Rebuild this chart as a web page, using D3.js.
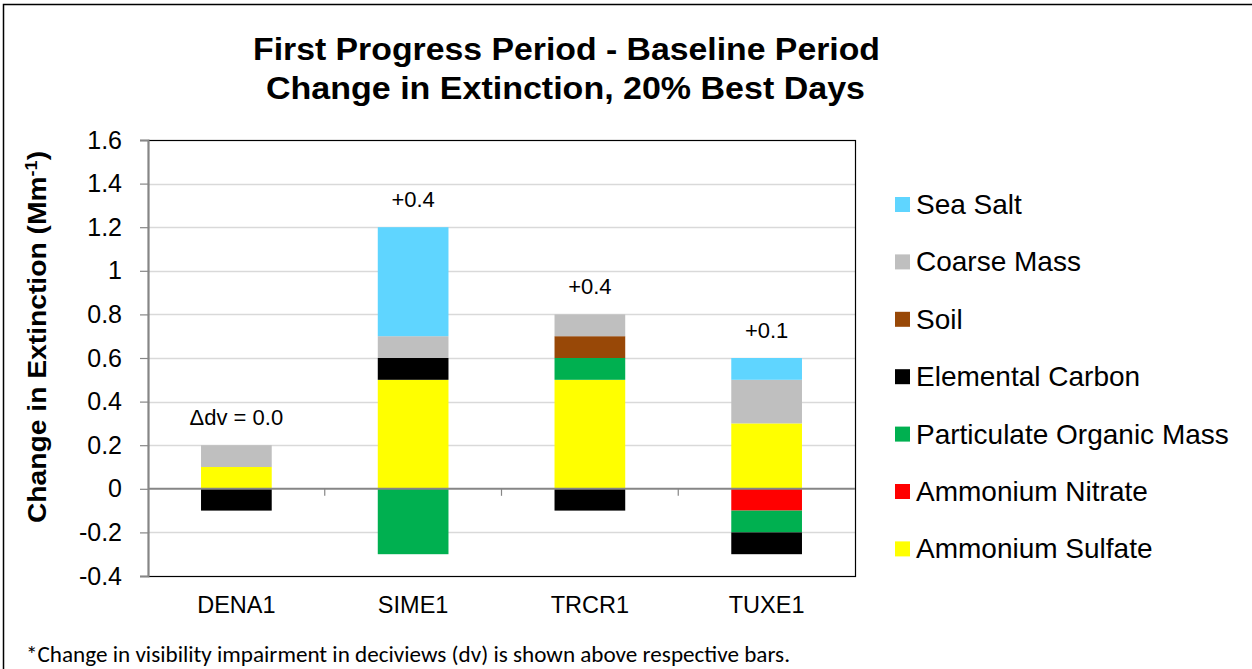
<!DOCTYPE html>
<html>
<head>
<meta charset="utf-8">
<script src="https://cdn.jsdelivr.net/npm/d3@7"></script>
<style>
  body { margin: 0; background: #fff; }
  svg { display: block; font-family: Arial, "Liberation Sans", sans-serif; }
</style>
</head>
<body>
<div id="chart"></div>
<script>
// sites along the x axis
var sites = ['DENA1', 'SIME1', 'TRCR1', 'TUXE1'];

// change in extinction per species (Mm-1), one value per site
var ammoniumSulfate = [0.1, 0.5, 0.5, 0.3];
var ammoniumNitrate = [0.0, 0.0, 0.0, -0.1];
var organicMass     = [0.0, -0.3, 0.1, -0.1];
var elementalCarbon = [-0.1, 0.1, -0.1, -0.1];
var soil            = [0.0, 0.0, 0.1, 0.0];
var coarseMass      = [0.1, 0.1, 0.1, 0.2];
var seaSalt         = [0.0, 0.5, 0.0, 0.1];

// deciview change printed above each bar
var dvLabels = ['\u0394dv = 0.0', '+0.4', '+0.4', '+0.1'];

var yTicks = [-0.4, -0.2, 0, 0.2, 0.4, 0.6, 0.8, 1, 1.2, 1.4, 1.6];

var species = [
    { key: 'sulfate', name: 'Ammonium Sulfate',        color: '#ffff00', values: ammoniumSulfate },
    { key: 'nitrate', name: 'Ammonium Nitrate',        color: '#ff0000', values: ammoniumNitrate },
    { key: 'pom',     name: 'Particulate Organic Mass', color: '#00b050', values: organicMass },
    { key: 'ec',      name: 'Elemental Carbon',        color: '#000000', values: elementalCarbon },
    { key: 'soil',    name: 'Soil',                    color: '#984807', values: soil },
    { key: 'cm',      name: 'Coarse Mass',             color: '#bfbfbf', values: coarseMass },
    { key: 'ss',      name: 'Sea Salt',                color: '#5fd5ff', values: seaSalt }
];

var rows = sites.map(function(s, i) {
    var r = { site: s };
    species.forEach(function(sp) { r[sp.key] = sp.values[i]; });
    return r;
});

var width = 1252;
var height = 669;
var margin = { left: 148, right: 397, top: 140, bottom: 93 };
var plotW = width - margin.left - margin.right;
var plotH = height - margin.top - margin.bottom;

var svg = d3.select('#chart').append('svg')
    .attr('width', width)
    .attr('height', height);

// page frame
svg.append('path')
    .attr('d', 'M3.5,' + height + 'V4.5H' + width)
    .attr('fill', 'none')
    .attr('stroke', '#000')
    .attr('stroke-width', 1.5);

var x = d3.scaleBand()
    .domain(sites)
    .range([0, plotW])
    .paddingInner(0.6)
    .paddingOuter(0.3);

var y = d3.scaleLinear()
    .domain([-0.4, 1.6])
    .range([plotH, 0]);

var g = svg.append('g')
    .attr('transform', 'translate(' + margin.left + ',' + margin.top + ')');

// gridlines
g.selectAll('.grid')
    .data(yTicks.filter(function(t) { return t !== 0 && t !== -0.4 && t !== 1.6; }))
  .enter().append('line')
    .attr('class', 'grid')
    .attr('x1', 0)
    .attr('x2', plotW)
    .attr('y1', function(d) { return Math.round(y(d)) + 0.5; })
    .attr('y2', function(d) { return Math.round(y(d)) + 0.5; })
    .attr('stroke', '#d9d9d9')
    .attr('stroke-width', 1.5);

// plot area border
g.append('rect')
    .attr('x', 0.5)
    .attr('y', 0.5)
    .attr('width', plotW)
    .attr('height', plotH)
    .attr('fill', 'none')
    .attr('stroke', '#000')
    .attr('stroke-width', 1.2);

var stack = d3.stack()
    .keys(species.map(function(s) { return s.key; }))
    .offset(d3.stackOffsetDiverging);

var layers = stack(rows);

g.selectAll('.layer')
    .data(layers)
  .enter().append('g')
    .attr('class', 'layer')
    .attr('fill', function(d, i) { return species[i].color; })
  .selectAll('rect')
    .data(function(d) { return d; })
  .enter().append('rect')
    .attr('x', function(d) { return x(d.data.site); })
    .attr('width', x.bandwidth())
    .attr('y', function(d) { return y(Math.max(d[0], d[1])); })
    .attr('height', function(d) { return Math.abs(y(d[0]) - y(d[1])); });

// y axis, plain hyphen for negatives
var yAxis = d3.axisLeft(y)
    .tickValues(yTicks)
    .tickSize(8)
    .tickPadding(18)
    .tickFormat(function(d) { return String(+d.toFixed(1)); });

var ya = g.append('g').call(yAxis);
ya.select('.domain').attr('stroke', '#868686').attr('stroke-width', 2);
ya.selectAll('.tick line').attr('stroke', '#868686').attr('stroke-width', 1.2);
ya.selectAll('.tick text')
    .attr('fill', '#000')
    .attr('x', -26)
    .style('font-size', '25px');

// zero line with category separators
var xa = g.append('g')
    .attr('transform', 'translate(0,' + y(0) + ')');
xa.append('line')
    .attr('x1', 0).attr('x2', plotW)
    .attr('stroke', '#868686').attr('stroke-width', 2);
xa.selectAll('.sep')
    .data(sites.slice(1))
  .enter().append('line')
    .attr('class', 'sep')
    .attr('x1', function(d) { return x(d) - x.step() * x.paddingInner() / 2; })
    .attr('x2', function(d) { return x(d) - x.step() * x.paddingInner() / 2; })
    .attr('y1', 0)
    .attr('y2', 7)
    .attr('stroke', '#868686')
    .attr('stroke-width', 1.2);

// category labels under the plot
var xAxis = d3.axisBottom(x).tickSize(0).tickPadding(0);
g.append('g')
    .attr('transform', 'translate(0,' + plotH + ')')
    .call(xAxis)
    .call(function(a) { a.select('.domain').remove(); })
    .selectAll('text')
    .attr('dy', 0)
    .attr('y', 37)
    .attr('fill', '#000')
    .style('font-size', '23.5px');

// dv labels above bars
var tops = rows.map(function(r) {
    return d3.sum(species, function(sp) { return Math.max(0, r[sp.key]); });
});
g.selectAll('.dv')
    .data(sites)
  .enter().append('text')
    .attr('class', 'dv')
    .attr('x', function(d) { return x(d) + x.bandwidth() / 2; })
    .attr('y', function(d, i) { return y(tops[i]) - 20; })
    .attr('text-anchor', 'middle')
    .style('font-size', '22px')
    .text(function(d, i) { return dvLabels[i]; });

// titles
svg.append('text')
    .attr('x', 566.5)
    .attr('y', 60)
    .attr('text-anchor', 'middle')
    .attr('textLength', 627)
    .attr('lengthAdjust', 'spacingAndGlyphs')
    .style('font-size', '31px')
    .style('font-weight', 'bold')
    .text('First Progress Period - Baseline Period');
svg.append('text')
    .attr('x', 565.5)
    .attr('y', 99)
    .attr('text-anchor', 'middle')
    .attr('textLength', 599)
    .attr('lengthAdjust', 'spacingAndGlyphs')
    .style('font-size', '31px')
    .style('font-weight', 'bold')
    .text('Change in Extinction, 20% Best Days');

var yt = svg.append('text')
    .attr('transform', 'translate(46,337) rotate(-90) scale(1.13,1)')
    .attr('text-anchor', 'middle')
    .style('font-size', '25px')
    .style('font-weight', 'bold');
yt.append('tspan').text('Change in Extinction (Mm');
yt.append('tspan').attr('dy', -9).style('font-size', '16px').text('-1');
yt.append('tspan').attr('dy', 9).text(')');

// legend, top entry is the last stacked series
var legend = svg.selectAll('.legend')
    .data(species.slice().reverse())
  .enter().append('g')
    .attr('class', 'legend')
    .attr('transform', function(d, i) { return 'translate(895,' + (204.5 + i * 57.4) + ')'; });
legend.append('rect')
    .attr('x', 0).attr('y', -7.5)
    .attr('width', 15).attr('height', 15)
    .attr('fill', function(d) { return d.color; });
legend.append('text')
    .attr('x', 21)
    .attr('y', 9.5)
    .style('font-size', '28px')
    .text(function(d) { return d.name; });

// footnote
svg.append('text')
    .attr('x', 26)
    .attr('y', 662)
    .attr('textLength', 764)
    .attr('lengthAdjust', 'spacingAndGlyphs')
    .style('font-family', 'Carlito, "Liberation Sans Narrow", "Open Sans", sans-serif')
    .style('font-size', '23px')
    .text('*Change in visibility impairment in deciviews (dv) is shown above respective bars.');
</script>
</body>
</html>
